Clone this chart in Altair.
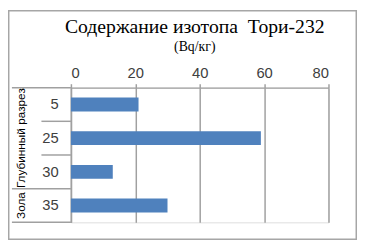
import altair as alt
import pandas as pd

# ---- data ----
depths = ["5", "25", "30", "35"]
values = [21, 59, 13, 30]
groups = ["Глубинный разрез", "Глубинный разрез", "Глубинный разрез", "Зола"]
x_ticks = [0, 20, 40, 60, 80]
title_text = "Содержание изотопа\u00a0 Тори-232"
subtitle_text = "(Bq/кг)"

W, H = 262, 137
STEP = H / len(depths)
NUM_FONT = "Liberation Sans"
SERIF = "'Liberation Serif', 'DejaVu Serif', serif"
GRID = "#A0A0A0"

df = pd.DataFrame({"depth": depths, "value": values, "group": groups})

# boundaries below each category: short inside a group, long at group end
bnd_rows = []
for i, d in enumerate(depths):
    last = i == len(depths) - 1 or groups[i + 1] != groups[i]
    bnd_rows.append({"depth": d, "kind": "long" if last else "short"})
bnd = pd.DataFrame(bnd_rows)

# group labels placed at the middle category of each group
grp_rows = []
for g in dict.fromkeys(groups):
    members = [d for d, gg in zip(depths, groups) if gg == g]
    grp_rows.append({"depth": members[len(members) // 2], "group": g})
grp = pd.DataFrame(grp_rows)

yscale = alt.Scale(domain=depths, paddingInner=0.59, paddingOuter=0.295)

bars = alt.Chart(df).mark_bar(color="#4F81BD").encode(
    x=alt.X(
        "value:Q",
        scale=alt.Scale(domain=[0, 80], nice=False),
        axis=alt.Axis(
            orient="top", values=x_ticks, title=None, grid=True,
            gridColor=GRID, gridWidth=1.5, tickColor=GRID, tickSize=4,
            tickWidth=1.5, domainColor=GRID, domainWidth=1.5,
            labelFont=NUM_FONT, labelFontSize=15, labelColor="#404040",
            labelPadding=3,
        ),
    ),
    y=alt.Y(
        "depth:N", scale=yscale, sort=depths,
        axis=alt.Axis(
            title=None, ticks=False, domainColor=GRID, domainWidth=1.5,
            labelFont=NUM_FONT, labelFontSize=15, labelColor="#404040",
            labelPadding=13,
        ),
    ),
)

short_rules = alt.Chart(bnd[bnd.kind == "short"]).mark_rule(
    yOffset=STEP / 2, color=GRID, strokeWidth=1.5
).encode(y=alt.Y("depth:N"), x=alt.value(-30), x2=alt.value(0))

long_rules = alt.Chart(bnd[bnd.kind == "long"]).mark_rule(
    yOffset=STEP / 2, color=GRID, strokeWidth=1.5
).encode(y=alt.Y("depth:N"), x=alt.value(-60), x2=alt.value(0))

top_rule = alt.Chart(pd.DataFrame({"depth": [depths[0]]})).mark_rule(
    yOffset=-STEP / 2, color=GRID, strokeWidth=1.5
).encode(y=alt.Y("depth:N"), x=alt.value(-60), x2=alt.value(0))

grp_text = alt.Chart(grp).mark_text(
    angle=270, align="center", baseline="middle",
    font="Liberation Sans", fontSize=12, color="#000000",
).encode(y=alt.Y("depth:N"), x=alt.value(-51), text="group:N")

title_df = pd.DataFrame({"t": [title_text]})
sub_df = pd.DataFrame({"t": [subtitle_text]})

title_mark = alt.Chart(title_df).mark_text(
    font=SERIF, fontSize=20, color="#000000",
    align="center", baseline="alphabetic",
).encode(text="t:N", x=alt.value(W / 2 - 5), y=alt.value(-56))

sub_mark = alt.Chart(sub_df).mark_text(
    font=SERIF, fontSize=14, color="#000000",
    align="center", baseline="alphabetic",
).encode(text="t:N", x=alt.value(W / 2 - 5), y=alt.value(-37))

border = alt.Chart(pd.DataFrame({"a": [0]})).mark_rect(
    fill=None, stroke="#A6A6A6", strokeWidth=1.5
).encode(
    x=alt.value(-63.25), x2=alt.value(W + 28.25),
    y=alt.value(-78.25), y2=alt.value(H + 17.25),
)

chart = alt.layer(
    bars, short_rules, long_rules, top_rule, grp_text, title_mark, sub_mark, border
).properties(
    width=W, height=H,
    autosize="none",
    padding={"left": 64, "top": 79, "right": 29, "bottom": 18},
).configure_view(stroke=None).configure(background="white")

chart.save("out.html", embed_options={"renderer": "svg", "actions": False})
